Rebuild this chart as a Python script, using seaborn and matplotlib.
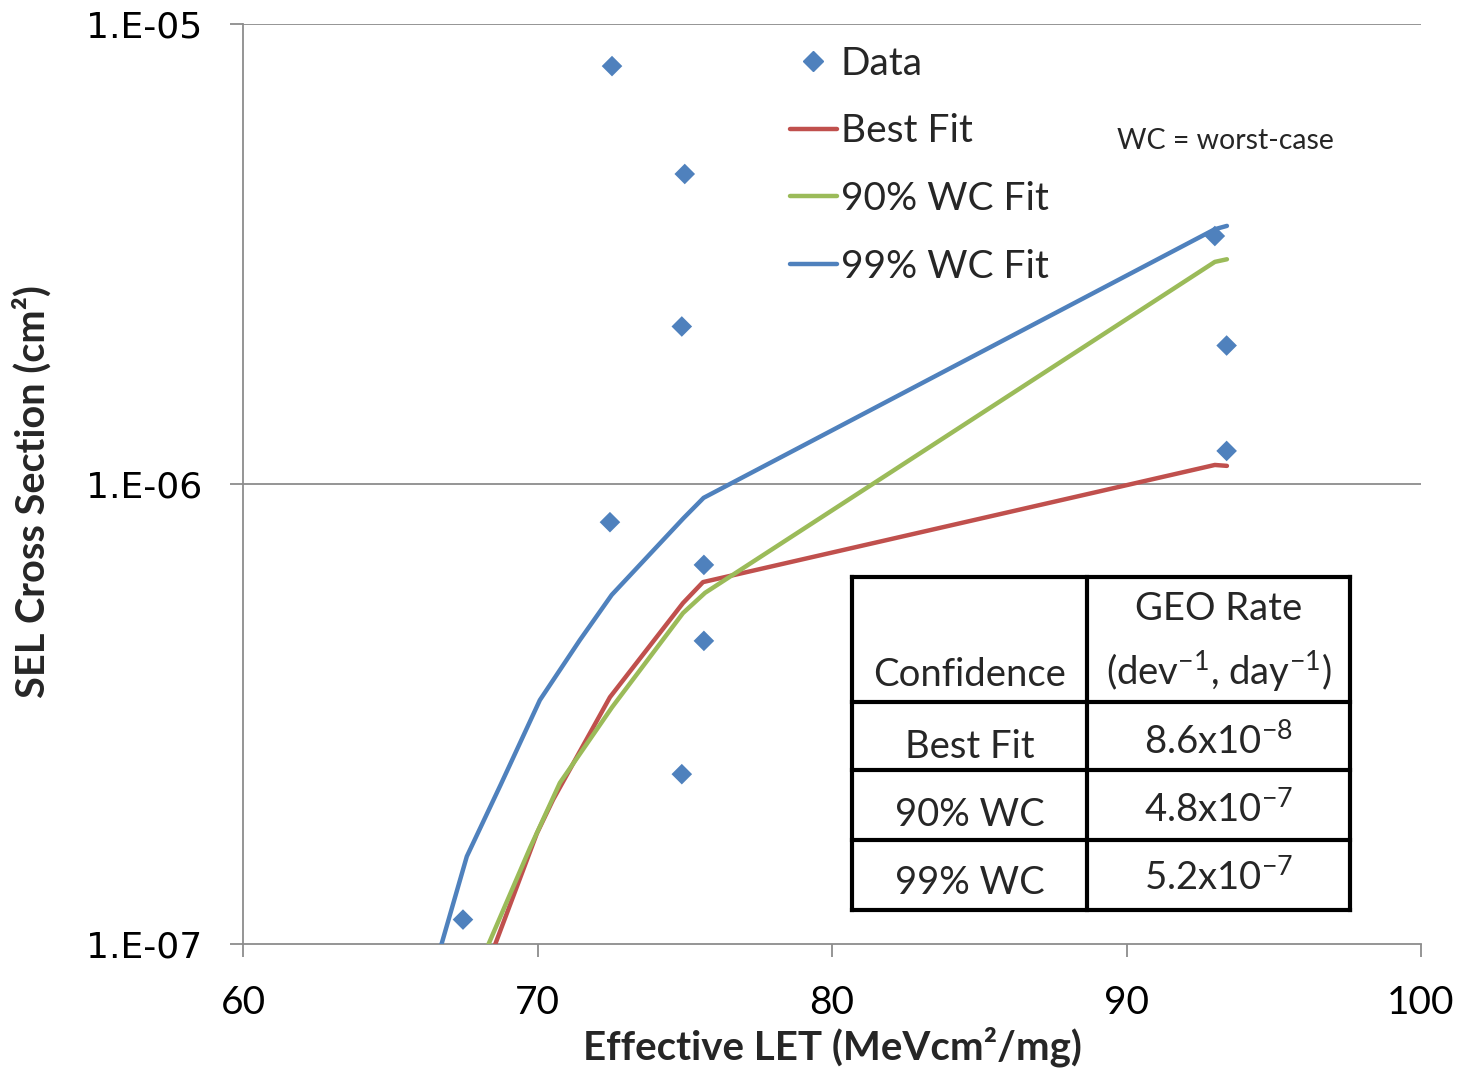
import numpy as np
import pandas as pd
import matplotlib
matplotlib.use("Agg")
import matplotlib.pyplot as plt
import seaborn as sns
from matplotlib.lines import Line2D
from matplotlib.patches import Rectangle
from matplotlib.ticker import FixedLocator, NullLocator, FixedFormatter

# ---------------- data ----------------
data_let = [72.53, 75.0, 74.9, 93.0, 93.4, 93.4, 72.46, 75.65, 75.65, 74.9, 67.47]
data_xs = [8.1e-6, 4.72e-6, 2.2e-6, 3.46e-6, 2.0e-6, 1.18e-6, 8.26e-7, 6.67e-7, 4.56e-7, 2.34e-7, 1.13e-7]

best_let = [68.49, 69.98, 70.53, 72.46, 74.94, 75.62, 93.0, 93.41]
best_xs = [9.7e-8, 1.74e-7, 2.06e-7, 3.44e-7, 5.51e-7, 6.12e-7, 1.10e-6, 1.095e-6]
wc90_let = [68.25, 69.75, 70.76, 72.53, 74.94, 75.69, 93.0, 93.41]
wc90_xs = [9.7e-8, 1.62e-7, 2.24e-7, 3.27e-7, 5.24e-7, 5.80e-7, 3.04e-6, 3.08e-6]
wc99_let = [66.6, 67.60, 68.75, 70.08, 71.44, 72.52, 74.96, 75.64, 93.0, 93.41]
wc99_xs = [9.3e-8, 1.55e-7, 2.22e-7, 3.39e-7, 4.58e-7, 5.74e-7, 8.43e-7, 9.33e-7, 3.58e-6, 3.64e-6]

fit_names = ["Best Fit", "90% WC Fit", "99% WC Fit"]
fit_colors = ["#C0504D", "#9BBB59", "#4F81BD"]
data_color = "#4F81BD"

x_ticks = [60, 70, 80, 90, 100]
y_ticks = [1e-7, 1e-6, 1e-5]
y_tick_labels = ["1.E-07", "1.E-06", "1.E-05"]

table_conf = ["Best Fit", "90% WC", "99% WC"]
table_rate = ["8.6x10$^{\\mathregular{-8}}$", "4.8x10$^{\\mathregular{-7}}$", "5.2x10$^{\\mathregular{-7}}$"]

# ---------------- figure ----------------
W, H = 1459, 1071
sns.set_theme(style="white")
plt.rcParams["font.family"] = ["Lato", "DejaVu Sans"]

fig = plt.figure(figsize=(W / 100, H / 100), dpi=100)
ax = fig.add_axes([243 / W, 1 - 944 / H, (1421 - 243) / W, (944 - 24) / H])

lines_df = pd.concat([
    pd.DataFrame({"let": best_let, "xs": best_xs, "fit": fit_names[0]}),
    pd.DataFrame({"let": wc90_let, "xs": wc90_xs, "fit": fit_names[1]}),
    pd.DataFrame({"let": wc99_let, "xs": wc99_xs, "fit": fit_names[2]}),
], ignore_index=True)
data_df = pd.DataFrame({"let": data_let, "xs": data_xs})

ax.set_yscale("log")
sns.lineplot(data=lines_df, x="let", y="xs", hue="fit", palette=dict(zip(fit_names, fit_colors)),
             sort=False, estimator=None, linewidth=3.2, legend=False, ax=ax, zorder=3)
sns.scatterplot(data=data_df, x="let", y="xs", marker="D", s=110, color=data_color,
                edgecolor="none", ax=ax, zorder=4)

ax.set_xlim(60, 100)
ax.set_ylim(1e-7, 1e-5)
ax.xaxis.set_major_locator(FixedLocator(x_ticks))
ax.yaxis.set_major_locator(FixedLocator(y_ticks))
ax.yaxis.set_major_formatter(FixedFormatter(y_tick_labels))
ax.yaxis.set_minor_locator(NullLocator())
ax.xaxis.set_minor_locator(NullLocator())

grid_c = "#8C8C8C"
for yv in y_ticks[1:]:
    ax.axhline(yv, color=grid_c, lw=1.3, zorder=1)
for side in ["top", "right"]:
    ax.spines[side].set_visible(False)
for side in ["left", "bottom"]:
    ax.spines[side].set_color(grid_c)
    ax.spines[side].set_linewidth(1.3)

ax.tick_params(axis="x", which="major", direction="out", length=9.5, width=1.3, color=grid_c,
               bottom=True, pad=20, labelsize=28, labelcolor="black")
ax.tick_params(axis="y", which="major", direction="out", length=9.5, width=1.3, color=grid_c,
               left=True, pad=20, labelsize=26, labelcolor="black")
for lab in ax.get_yticklabels():
    lab.set_family("DejaVu Sans")

ax.set_xlabel("Effective LET (MeVcm²/mg)", fontsize=29, fontweight="bold")
ax.set_ylabel("SEL Cross Section (cm²)", fontsize=28.5, fontweight="bold")
ax.xaxis.set_label_coords(0.5, -0.09)
ax.yaxis.set_label_coords(-0.179, 0.492)
ax.yaxis.label.set_va("center")

# legend
handles = [Line2D([], [], marker="D", ls="none", color=data_color, markersize=10)]
handles += [Line2D([], [], color=c, lw=3.2) for c in fit_colors]
ax.legend(handles, ["Data"] + fit_names, loc="upper left", frameon=False,
          bbox_to_anchor=(790 / W, 1 - 46 / H), bbox_transform=fig.transFigure,
          fontsize=28, handlelength=1.2, handletextpad=0.1, labelspacing=0.81,
          borderpad=0, borderaxespad=0)

fig.text(1225 / W, 1 - 149 / H, "WC = worst-case", ha="center", va="baseline", fontsize=20.5)

# table
def P(x, y):
    return (x / W, 1 - y / H)

x0, x1, x2 = 852, 1087, 1350
rows = [577, 702, 770, 840, 910]
fig.add_artist(Rectangle(P(x0, rows[-1]), (x2 - x0) / W, (rows[-1] - rows[0]) / H,
                         transform=fig.transFigure, facecolor="white", edgecolor="none", zorder=5))
for yy in rows:
    fig.add_artist(Line2D([x0 / W, x2 / W], [1 - yy / H] * 2, transform=fig.transFigure,
                          color="black", lw=3, zorder=6, solid_capstyle="projecting"))
for xx in [x0, x1, x2]:
    fig.add_artist(Line2D([xx / W] * 2, [1 - rows[0] / H, 1 - rows[-1] / H], transform=fig.transFigure,
                          color="black", lw=3, zorder=6, solid_capstyle="projecting"))

tfs = 27.5
cx1, cx2 = (x0 + x1) / 2, (x1 + x2) / 2
fig.text(*P(cx1, 686), "Confidence", ha="center", va="baseline", fontsize=tfs, zorder=7)
fig.text(*P(cx2, 620), "GEO Rate", ha="center", va="baseline", fontsize=tfs, zorder=7)
fig.text(*P(cx2, 686), "(dev$^{\\mathregular{-1}}$, day$^{\\mathregular{-1}}$)", ha="center",
         va="baseline", fontsize=tfs, zorder=7)
base = [758, 826, 894]
for c, r, b in zip(table_conf, table_rate, base):
    fig.text(*P(cx1, b), c, ha="center", va="baseline", fontsize=tfs, zorder=7)
    fig.text(*P(cx2, b - 3), r, ha="center", va="baseline", fontsize=tfs, zorder=7)

fig.savefig("out.png", dpi=100)
